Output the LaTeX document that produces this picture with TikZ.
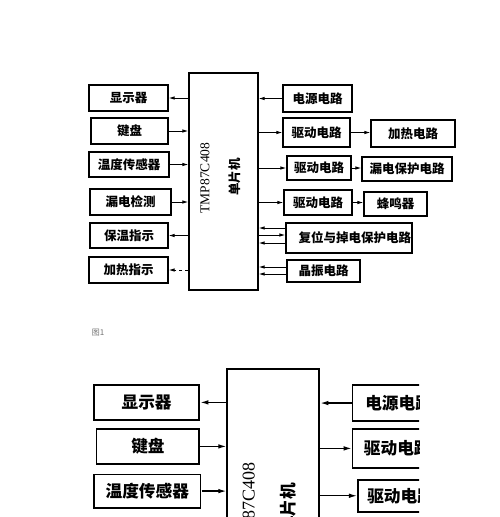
\documentclass[tikz,border=0pt]{standalone}
\usepackage{fontspec}
\setmainfont{Liberation Serif}
\newfontfamily\cjk{Noto Sans CJK SC}
\usetikzlibrary{arrows.meta,calc}

% #1 = name prefix
\newcommand\blockdiag[1]{%
  % MCU
  \node[box,minimum width=69,minimum height=217] (#1mcu) at (223.5,181.5) {};
  \node[rotate=90,inner sep=0,font=\fontsize{13.5}{14}\selectfont] (#1mcut) at (205,178) {TMP87C408};
  \node[rotate=90,inner sep=0,font=\cjk\bfseries\fontsize{12.5}{13}\selectfont] (#1mcuc) at (235,177) {单片机};
  % left boxes
  \node[box,minimum width=79,minimum height=26] (#1disp) at (128.5,98) {显示器};
  \node[box,minimum width=77,minimum height=26] (#1key)  at (129.5,131) {键盘};
  \node[box,minimum width=80,minimum height=25] (#1temp) at (129,164.5) {温度传感器};
  \node[box,minimum width=81,minimum height=26] (#1leak) at (130.5,202) {漏电检测};
  \node[box,minimum width=78,minimum height=25] (#1keep) at (129,235.5) {保温指示};
  \node[box,minimum width=79,minimum height=26] (#1hind) at (128.5,270) {加热指示};
  % right boxes
  \node[box,minimum width=69,minimum height=27] (#1pow)  at (317.5,98.5) {电源电路};
  \node[box,minimum width=67,minimum height=29] (#1drva) at (316.5,132.5) {驱动电路};
  \node[box,minimum width=84,minimum height=27] (#1heat) at (413,133.5) {加热电路};
  \node[box,minimum width=64,minimum height=24] (#1drvb) at (319,168) {驱动电路};
  \node[box,minimum width=90,minimum height=24] (#1lprt) at (407,169) {漏电保护电路};
  \node[box,minimum width=68,minimum height=25] (#1drvc) at (318,202.5) {驱动电路};
  \node[box,minimum width=63,minimum height=24] (#1buzz) at (395.5,204) {蜂鸣器};
  \node[box,minimum width=126,minimum height=30,text width=124,align=right] (#1rst) at (349,238) {复位与掉电保护电路};
  \node[box,minimum width=73,minimum height=22] (#1osc)  at (323.5,271) {晶振电路};
  % left connectors
  \draw[arr] (#1mcu.west |- #1disp.east) -- (#1disp.east);
  \draw[arr] (#1key.east) -- (#1mcu.west |- #1key.east);
  \draw[arr] (#1temp.east) -- (#1mcu.west |- #1temp.east);
  \draw[arr] (#1leak.east) -- (#1mcu.west |- #1leak.east);
  \draw[arr] (#1mcu.west |- #1keep.east) -- (#1keep.east);
  \draw[arr,dashed] (#1mcu.west |- #1hind.east) -- (#1hind.east);
  % right connectors
  \draw[arr] (#1pow.west) -- (#1mcu.east |- #1pow.west);
  \draw[arr] (#1mcu.east |- #1drva.west) -- (#1drva.west);
  \draw[arr] (#1drva.east) -- (#1heat.west |- #1drva.east);
  \draw[arr] (#1mcu.east |- #1drvb.west) -- (#1drvb.west);
  \draw[arr] (#1drvb.east) -- (#1lprt.west |- #1drvb.east);
  \draw[arr] (#1mcu.east |- #1drvc.west) -- (#1drvc.west);
  \draw[arr] (#1drvc.east) -- (#1buzz.west |- #1drvc.east);
  \coordinate (#1rsta) at ($(#1rst.west)+(0,-10)$);
  \coordinate (#1rstb) at ($(#1rst.west)+(0,-3)$);
  \coordinate (#1rstc) at ($(#1rst.west)+(0,5)$);
  \draw[arr] (#1rsta) -- (#1mcu.east |- #1rsta);
  \draw[arr] (#1mcu.east |- #1rstb) -- (#1rstb);
  \draw[arr] (#1rstc) -- (#1mcu.east |- #1rstc);
  \coordinate (#1osca) at ($(#1osc.west)+(0,-4)$);
  \coordinate (#1oscb) at ($(#1osc.west)+(0,3)$);
  \draw[arr] (#1osca) -- (#1mcu.east |- #1osca);
  \draw[arr] (#1oscb) -- (#1mcu.east |- #1oscb);
}

\begin{document}
\begin{tikzpicture}[x=1pt,y=-1pt,
  box/.style={draw,line width=1.2pt,inner sep=0pt,font=\cjk\bfseries\fontsize{12.5}{13}\selectfont},
  arr/.style={line width=0.9pt,-{Latex[length=6pt,width=3.5pt]}}]
  \useasboundingbox[fill=white] (0,0) rectangle (500,517);
  \begin{scope}
    \blockdiag{a}
  \end{scope}
  \node[inner sep=0,text=black!55,font=\cjk\fontsize{8}{8}\selectfont] (fig) at (98,333) {图1};
  \begin{scope}
    \clip (0,0) rectangle (419,517);
    \begin{scope}[shift={(-24.7,271.7)},scale=1.3333,transform shape,
      box/.style={draw,line width=1.6pt,inner sep=0pt,font=\cjk\bfseries\fontsize{12.5}{13}\selectfont},
      arr/.style={line width=1.2pt,-{Latex[length=8pt,width=4.6pt]}}]
      \blockdiag{b}
    \end{scope}
  \end{scope}
\end{tikzpicture}
\end{document}
